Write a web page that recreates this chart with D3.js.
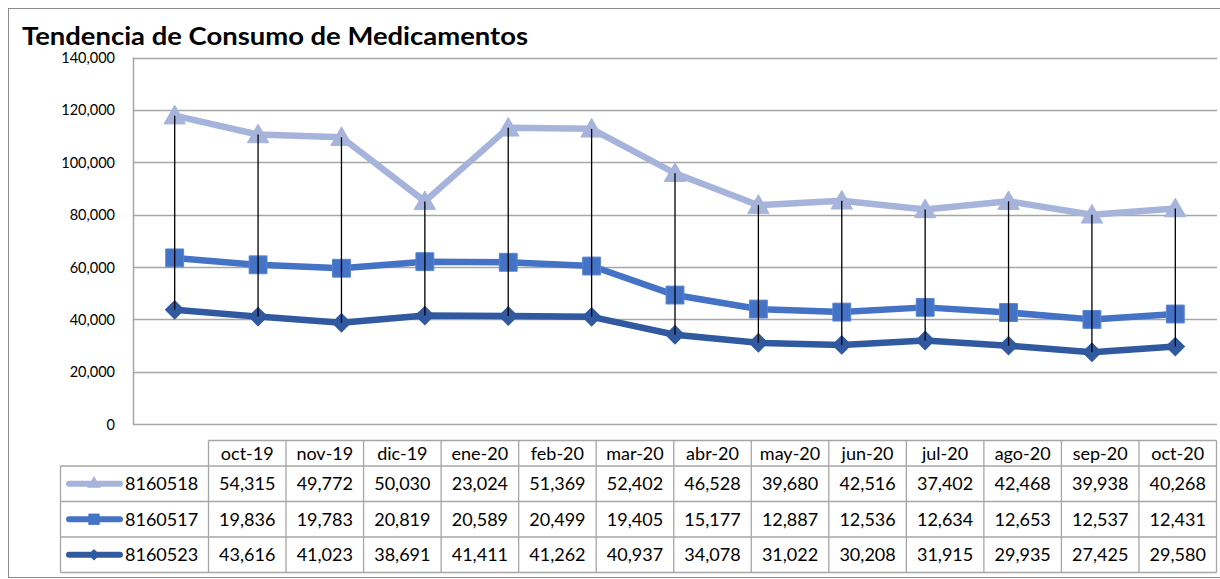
<!DOCTYPE html>
<html>
<head>
<meta charset="utf-8">
<script src="https://cdn.jsdelivr.net/npm/d3@7"></script>
<style>
  body { margin: 0; background: #fff; }
  text { font-family: Lato, "Open Sans", sans-serif; fill: #000; }
</style>
</head>
<body>
<div id="chart"></div>
<script>
var months = ["oct-19", "nov-19", "dic-19", "ene-20", "feb-20", "mar-20", "abr-20",
              "may-20", "jun-20", "jul-20", "ago-20", "sep-20", "oct-20"];

var s8160518 = [54315, 49772, 50030, 23024, 51369, 52402, 46528, 39680, 42516, 37402, 42468, 39938, 40268];
var s8160517 = [19836, 19783, 20819, 20589, 20499, 19405, 15177, 12887, 12536, 12634, 12653, 12537, 12431];
var s8160523 = [43616, 41023, 38691, 41411, 41262, 40937, 34078, 31022, 30208, 31915, 29935, 27425, 29580];

var yTicks = [0, 20000, 40000, 60000, 80000, 100000, 120000, 140000];

// order in the data table (top to bottom)
var seriesNames = ["8160518", "8160517", "8160523"];
var seriesVals = { "8160518": s8160518, "8160517": s8160517, "8160523": s8160523 };
var colors = { "8160518": "#a6b4dc", "8160517": "#4472c4", "8160523": "#30599f" };
var shapes = { "8160518": d3.symbolTriangle, "8160517": d3.symbolSquare, "8160523": d3.symbolSquare };
var sizes = { "8160518": 200, "8160517": 320, "8160523": 170 };
var rotate = { "8160518": 0, "8160517": 0, "8160523": 45 };

var W = 1220, H = 579;
var plot = {left: 133, right: 1217, top: 57.5, bottom: 424};

var svg = d3.select("#chart").append("svg")
  .attr("width", W)
  .attr("height", H);

// chart border
svg.append("rect")
  .attr("x", 8.5).attr("y", 8.5)
  .attr("width", 1230).attr("height", 569)
  .style("fill", "none")
  .style("stroke", "#8c8c8c")
  .style("stroke-width", 1);

svg.append("text")
  .attr("x", 22)
  .attr("y", 45)
  .style("font-size", "24px")
  .style("font-weight", "bold")
  .attr("textLength", 506)
  .attr("lengthAdjust", "spacingAndGlyphs")
  .text("Tendencia de Consumo de Medicamentos");

var x = d3.scaleBand().domain(months).range([plot.left, plot.right]);
var y = d3.scaleLinear().domain([0, 140000]).range([plot.bottom, plot.top]);

// stacked: bottom series first
var rows = months.map(function(m, i) {
  return {month: m, "8160523": s8160523[i], "8160517": s8160517[i], "8160518": s8160518[i]};
});
var stack = d3.stack().keys(["8160523", "8160517", "8160518"]);
var stacked = stack(rows);

// gridlines
svg.append("g")
  .selectAll("line")
  .data(yTicks.slice(1))
  .enter().append("line")
    .attr("x1", plot.left).attr("x2", plot.right)
    .attr("y1", function(d) { return Math.round(y(d)) + 0.5; })
    .attr("y2", function(d) { return Math.round(y(d)) + 0.5; })
    .style("stroke", "#a6a6a6")
    .style("stroke-width", 1.5);

// axes lines
svg.append("line")
  .attr("x1", plot.left + 0.5).attr("x2", plot.left + 0.5)
  .attr("y1", plot.top).attr("y2", plot.bottom)
  .style("stroke", "#a6a6a6").style("stroke-width", 1.5);
svg.append("line")
  .attr("x1", plot.left).attr("x2", plot.right)
  .attr("y1", plot.bottom + 0.5).attr("y2", plot.bottom + 0.5)
  .style("stroke", "#a6a6a6").style("stroke-width", 1.5);

var yAxis = svg.append("g")
  .attr("transform", "translate(" + (plot.left - 15) + ",0)")
  .call(d3.axisLeft(y).tickValues(yTicks).tickSize(0).tickFormat(d3.format(",")));
yAxis.select(".domain").remove();
yAxis.selectAll("text")
  .style("font-family", "Lato, sans-serif")
  .style("font-size", "14.5px")
  .attr("dy", "0.35em");

var cx = function(i) { return x(months[i]) + x.bandwidth() / 2; };

var line = d3.line()
  .x(function(d, i) { return cx(i); })
  .y(function(d) { return y(d[1]); });

var layers = svg.append("g").selectAll(".layer")
  .data(stacked)
  .enter().append("g");

layers.append("path")
  .attr("d", function(d) { return line(d); })
  .style("fill", "none")
  .style("stroke", function(d) { return colors[d.key]; })
  .style("stroke-width", 6.5)
  .style("stroke-linejoin", "round");

layers.selectAll("path.mk")
  .data(function(d) { return d.map(function(p, i) { return {key: d.key, v: p[1], i: i}; }); })
  .enter().append("path")
    .attr("class", "mk")
    .attr("transform", function(d) {
      var dy = d.key == "8160518" ? 2 : 0;
      return "translate(" + cx(d.i) + "," + (y(d.v) + dy) + ") rotate(" + rotate[d.key] + ")";
    })
    .attr("d", function(d) { return d3.symbol().type(shapes[d.key]).size(sizes[d.key])(); })
    .style("fill", function(d) { return colors[d.key]; })
    .style("stroke", function(d) { return d.key == "8160517" ? "#5a86d4" : colors[d.key]; })
    .style("stroke-width", 1);

// high-low lines
var topLayer = stacked[2], bottomLayer = stacked[0];
svg.append("g").selectAll("line")
  .data(months)
  .enter().append("line")
    .attr("x1", function(d, i) { return cx(i); })
    .attr("x2", function(d, i) { return cx(i); })
    .attr("y1", function(d, i) { return y(topLayer[i][1]); })
    .attr("y2", function(d, i) { return y(bottomLayer[i][1]); })
    .style("stroke", "#000")
    .style("stroke-width", 1.3);

// data table
var tbl = {left: 60.5, colStart: 208.5, right: 1216.5, top: 440.5, rows: [466, 501.5, 537, 572.5]};
var colW = (tbl.right - tbl.colStart) / months.length;
var tx = d3.scaleBand().domain(months).range([tbl.colStart, tbl.right]);
var tg = svg.append("g");
var gridStroke = "#a6a6a6";
var tblFont = "18px";

// header row border
tg.append("line").attr("x1", tbl.colStart).attr("x2", tbl.right)
  .attr("y1", tbl.top).attr("y2", tbl.top)
  .style("stroke", gridStroke).style("stroke-width", 1.3);
tbl.rows.forEach(function(ry) {
  tg.append("line").attr("x1", tbl.left).attr("x2", tbl.right)
    .attr("y1", ry).attr("y2", ry)
    .style("stroke", gridStroke).style("stroke-width", 1.3);
});
tg.append("line").attr("x1", tbl.left).attr("x2", tbl.left)
  .attr("y1", tbl.rows[0]).attr("y2", tbl.rows[3])
  .style("stroke", gridStroke).style("stroke-width", 1.3);
tg.selectAll("line.v")
  .data(months.concat(["end"]))
  .enter().append("line")
    .attr("x1", function(d, i) { return tbl.colStart + i * colW; })
    .attr("x2", function(d, i) { return tbl.colStart + i * colW; })
    .attr("y1", tbl.top).attr("y2", tbl.rows[3])
    .style("stroke", gridStroke).style("stroke-width", 1.3);

tg.selectAll("text.hdr")
  .data(months)
  .enter().append("text")
    .attr("x", function(d) { return tx(d) + colW / 2; })
    .attr("y", (tbl.top + tbl.rows[0]) / 2)
    .attr("dy", "0.36em")
    .attr("text-anchor", "middle")
    .style("font-size", tblFont)
    .text(function(d) { return d; });

var fmt = d3.format(",");
seriesNames.forEach(function(name, r) {
  var y0 = tbl.rows[r], y1 = tbl.rows[r + 1], my = (y0 + y1) / 2;
  tg.selectAll("text.r" + r)
    .data(seriesVals[name])
    .enter().append("text")
      .attr("x", function(d, i) { return tx(months[i]) + colW / 2; })
      .attr("y", my)
      .attr("dy", "0.36em")
      .attr("text-anchor", "middle")
      .style("font-size", tblFont)
      .text(function(d) { return fmt(d); });

  // legend key
  tg.append("line")
    .attr("x1", 69).attr("x2", 120)
    .attr("y1", my).attr("y2", my)
    .style("stroke", colors[name])
    .style("stroke-width", 6)
    .style("stroke-linecap", "round");
  tg.append("path")
    .attr("transform", "translate(94," + my + ") rotate(" + rotate[name] + ")")
    .attr("d", d3.symbol().type(shapes[name]).size(sizes[name] * 0.4)())
    .style("fill", colors[name]);
  tg.append("text")
    .attr("x", 125)
    .attr("y", my)
    .attr("dy", "0.36em")
    .style("font-size", tblFont)
    .text(name);
});
</script>
</body>
</html>
